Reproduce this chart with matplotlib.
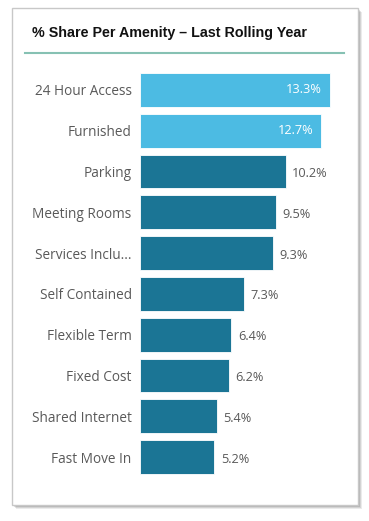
import matplotlib.pyplot as plt
from matplotlib.patches import Rectangle
from matplotlib.lines import Line2D

amenities = ["24 Hour Access", "Furnished", "Parking", "Meeting Rooms",
             "Services Inclu...", "Self Contained", "Flexible Term",
             "Fixed Cost", "Shared Internet", "Fast Move In"]
shares = [13.3, 12.7, 10.2, 9.5, 9.3, 7.3, 6.4, 6.2, 5.4, 5.2]
highlight = [True, True, False, False, False, False, False, False, False, False]

light = "#4cbbe3"
dark = "#1b7595"
grey = "#595959"

W, H = 369, 521
fig = plt.figure(figsize=(W / 100, H / 100), dpi=100)
fig.patch.set_facecolor("white")


def px(x, y):
    return x / W, 1 - y / H


# card shadow + card
for i, a in enumerate([0.08, 0.10, 0.12, 0.15]):
    off = 4 - i
    x0, y0 = px(12 + off, 505 + off)
    fig.add_artist(Rectangle((x0, y0), (346) / W, (497) / H,
                             transform=fig.transFigure, facecolor="#000000",
                             alpha=a, edgecolor="none", zorder=0))
x0, y0 = px(12, 505)
fig.add_artist(Rectangle((x0, y0), 346 / W, 497 / H, transform=fig.transFigure,
                         facecolor="white", edgecolor="#c8c8c8", lw=1, zorder=1))

fig.text(32 / W, 1 - 33 / H, "% Share Per Amenity \u2013 Last Rolling Year",
         fontfamily="Liberation Sans", fontweight="bold", fontsize=10.3,
         color="#111111", va="center", ha="left", zorder=3)
fig.add_artist(Line2D([25 / W, 344 / W], [1 - 53 / H, 1 - 53 / H],
                      transform=fig.transFigure, color="#86c1b3", lw=1.5, zorder=3))

ax = fig.add_axes([140 / W, 1 - 477.4 / H, 205 / W, 407.8 / H], zorder=4)
ax.patch.set_alpha(0)
ypos = list(range(len(amenities)))
colors = [light if h else dark for h in highlight]
ax.barh(ypos, shares, height=0.83, color=colors, edgecolor="white", lw=0.6)
ax.set_xlim(0, 205 / 14.29)
ax.set_ylim(len(amenities) - 0.5, -0.5)
ax.set_yticks(ypos)
ax.set_yticklabels(amenities, fontfamily="Open Sans", fontsize=9.8, color=grey)
ax.tick_params(axis="y", length=0, pad=6)
ax.set_xticks([])
for s in ax.spines.values():
    s.set_visible(False)

for y, v, h in zip(ypos, shares, highlight):
    if h:
        ax.text(v - 0.55, y, f"{v}%", ha="right", va="center", color="white",
                fontfamily="Open Sans", fontsize=9.2)
    else:
        ax.text(v + 0.45, y + 0.05, f"{v}%", ha="left", va="center", color=grey,
                fontfamily="Open Sans", fontsize=9.2)

fig.savefig("out.png", dpi=100)
